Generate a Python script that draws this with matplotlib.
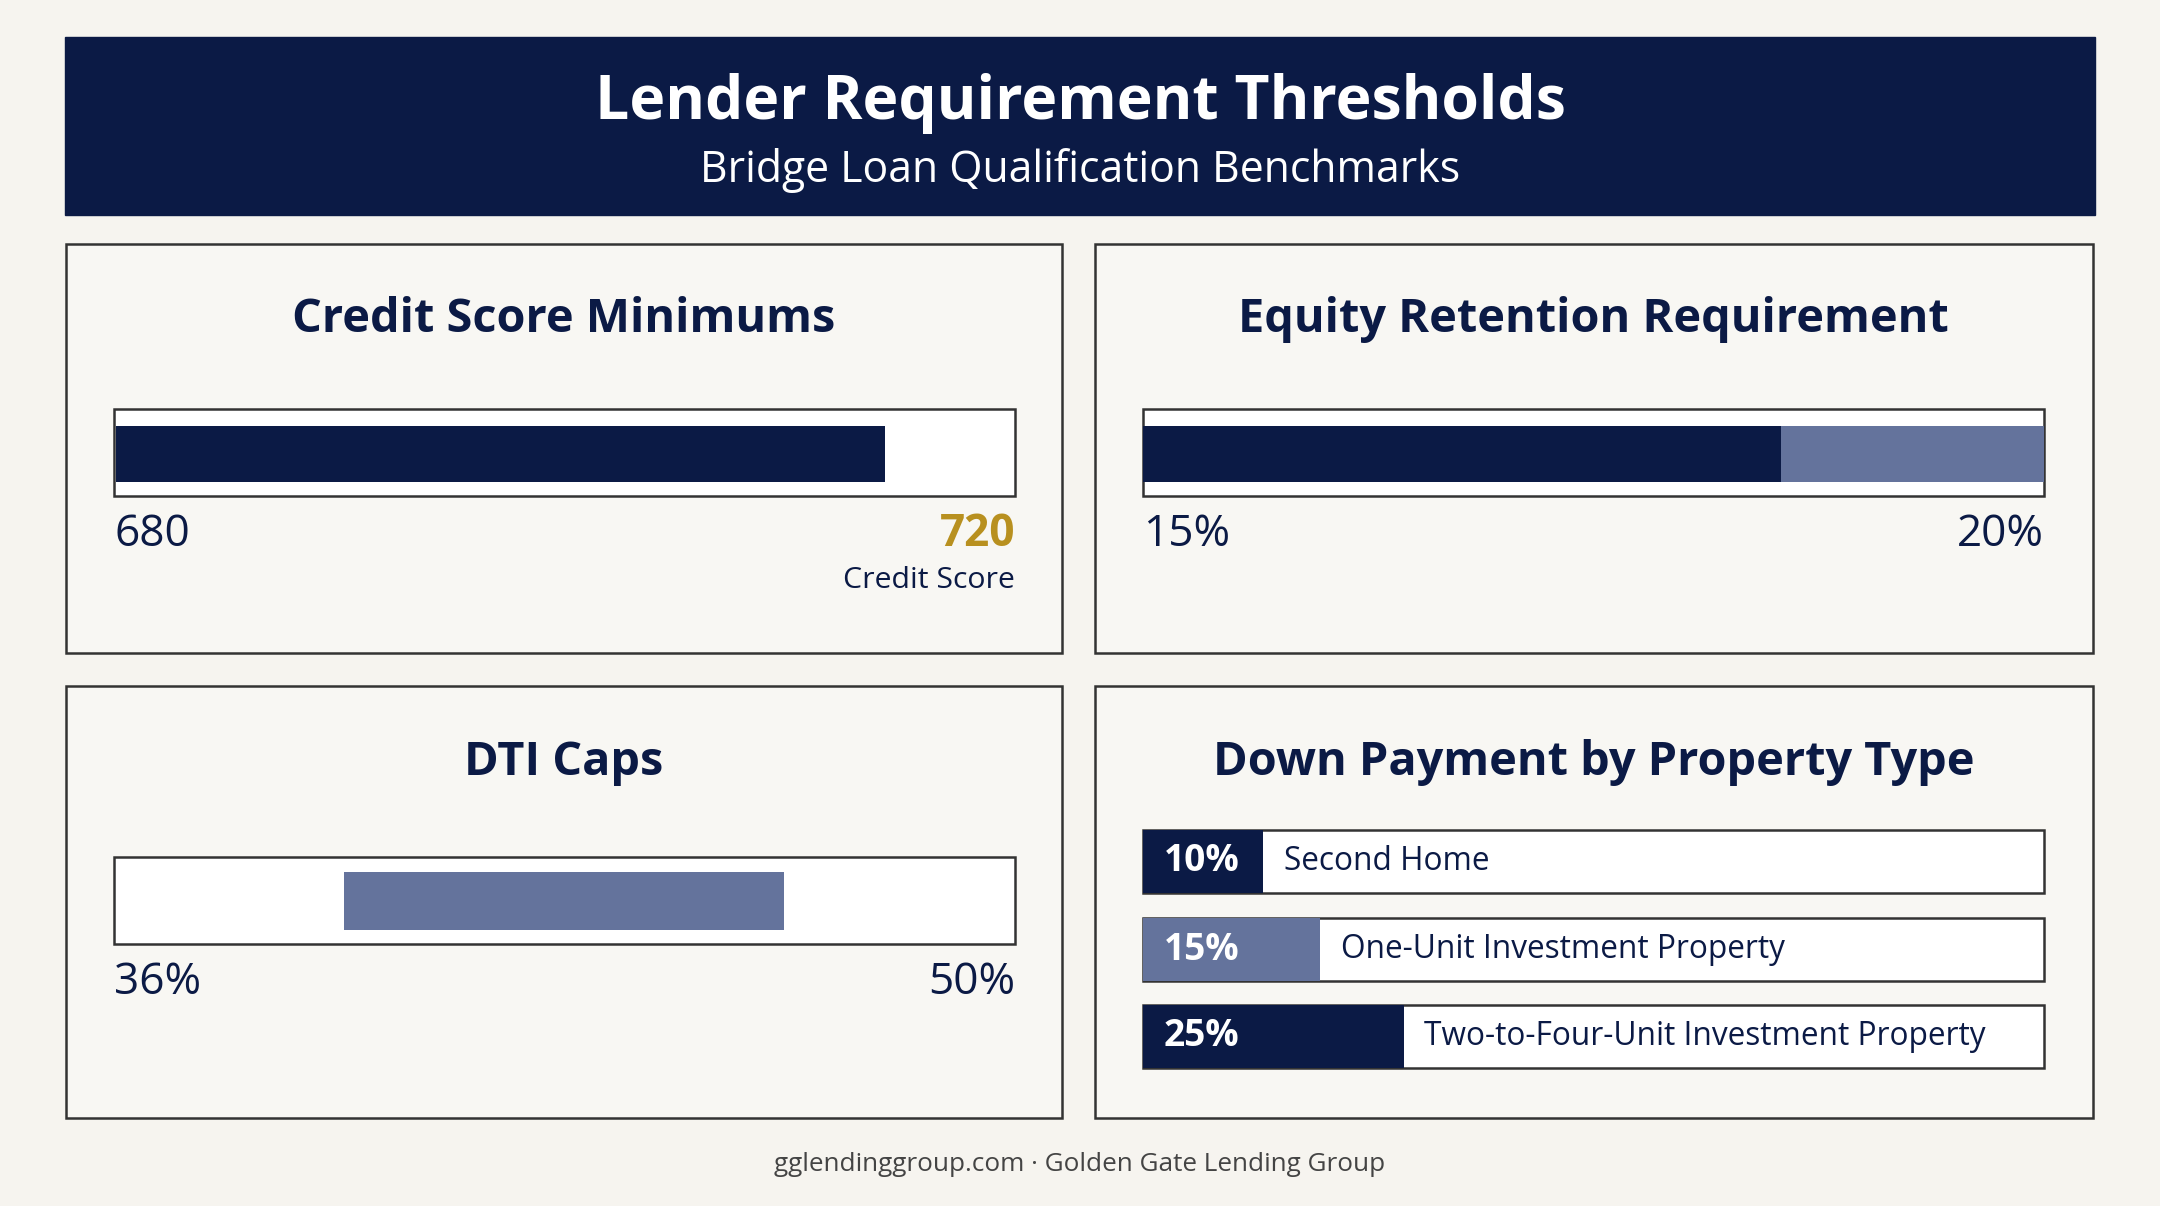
import matplotlib
matplotlib.use("Agg")
import matplotlib.pyplot as plt
from matplotlib.patches import Rectangle

plt.rcParams['font.family'] = ['Open Sans', 'DejaVu Sans']

# ---- data ----
title = "Lender Requirement Thresholds"
subtitle = "Bridge Loan Qualification Benchmarks"
panel_titles = ["Credit Score Minimums", "Equity Retention Requirement", "DTI Caps", "Down Payment by Property Type"]
credit_labels = ["680", "720"]
credit_fill = 0.855
equity_labels = ["15%", "20%"]
equity_split = 0.708
dti_labels = ["36%", "50%"]
dti_range = [0.255, 0.743]
dp_pcts = ["10%", "15%", "25%"]
dp_fracs = [0.133, 0.196, 0.289]
dp_names = ["Second Home", "One-Unit Investment Property", "Two-to-Four-Unit Investment Property"]
footer = "gglendinggroup.com · Golden Gate Lending Group"

NAVY = "#0b1a45"
SLATE = "#64739c"
GOLD = "#b8901f"
BG = "#f6f4ef"
PANEL = "#f8f7f3"
EDGE = "#333333"

fig = plt.figure(figsize=(21.6, 12.06), dpi=100, facecolor=BG)
ax = fig.add_axes([0, 0, 1, 1])
ax.set_xlim(0, 1568); ax.set_ylim(875, 0); ax.axis('off')
S = 1568 / 2160  # display px per figure px

def pt(display_px):
    return display_px / S * 72 / 100

# header
ax.add_patch(Rectangle((47, 27), 1474, 129, color=NAVY))
ax.text(784, 75, title, ha='center', va='center', color='white', fontsize=pt(44), fontweight='bold')
ax.text(784, 124, subtitle, ha='center', va='center', color='white', fontsize=pt(31))

panels = [(48, 177, 723, 297), (795, 177, 724, 297), (48, 498, 723, 313), (795, 498, 724, 313)]
tys = [232, 232, 553, 553]
for (x, y, w, h), t, ty in zip(panels, panel_titles, tys):
    ax.add_patch(Rectangle((x, y), w, h, facecolor=PANEL, edgecolor=EDGE, lw=1.8))
    ax.text(x + w / 2, ty, t, ha='center', va='center', color=NAVY, fontsize=pt(34), fontweight='bold')

def outline(x0, y0, w, h):
    ax.add_patch(Rectangle((x0, y0), w, h, facecolor='white', edgecolor=EDGE, lw=1.8, zorder=2))

BW = 654
# credit
outline(83, 297, BW, 63)
ax.barh(329.5, BW * credit_fill - 1, left=84, height=41, color=NAVY, zorder=3)
ax.text(83, 388, credit_labels[0], ha='left', va='center', color=NAVY, fontsize=pt(32))
ax.text(737, 388, credit_labels[1], ha='right', va='center', color=GOLD, fontsize=pt(32), fontweight='bold')
ax.text(737, 421, "Credit Score", ha='right', va='center', color=NAVY, fontsize=pt(22))

# equity
outline(830, 297, BW, 63)
ax.barh(329.5, BW * equity_split, left=830, height=41, color=NAVY, zorder=3)
ax.barh(329.5, BW * (1 - equity_split), left=830 + BW * equity_split, height=41, color=SLATE, zorder=3)
ax.text(830, 388, equity_labels[0], ha='left', va='center', color=NAVY, fontsize=pt(32))
ax.text(1484, 388, equity_labels[1], ha='right', va='center', color=NAVY, fontsize=pt(32))

# dti
outline(83, 622, BW, 63)
ax.barh(654, BW * (dti_range[1] - dti_range[0]), left=83 + BW * dti_range[0], height=42, color=SLATE, zorder=3)
ax.text(83, 713, dti_labels[0], ha='left', va='center', color=NAVY, fontsize=pt(32))
ax.text(737, 713, dti_labels[1], ha='right', va='center', color=NAVY, fontsize=pt(32))

# down payment
rows_y = [602, 666, 729]
cols = [NAVY, SLATE, NAVY]
for yy, p, f, n, c in zip(rows_y, dp_pcts, dp_fracs, dp_names, cols):
    outline(830, yy, BW, 46)
    ax.barh(yy + 23, BW * f, left=830, height=46, color=c, zorder=3)
    ax.text(845, yy + 23, p, ha='left', va='center', color='white', fontsize=pt(27), fontweight='bold', zorder=4)
    ax.text(830 + BW * f + 15, yy + 23, n, ha='left', va='center', color=NAVY, fontsize=pt(23), zorder=4)

ax.text(784, 845, footer, ha='center', va='center', color='#444444', fontsize=pt(19))

fig.savefig("out.png", dpi=100, facecolor=BG)
